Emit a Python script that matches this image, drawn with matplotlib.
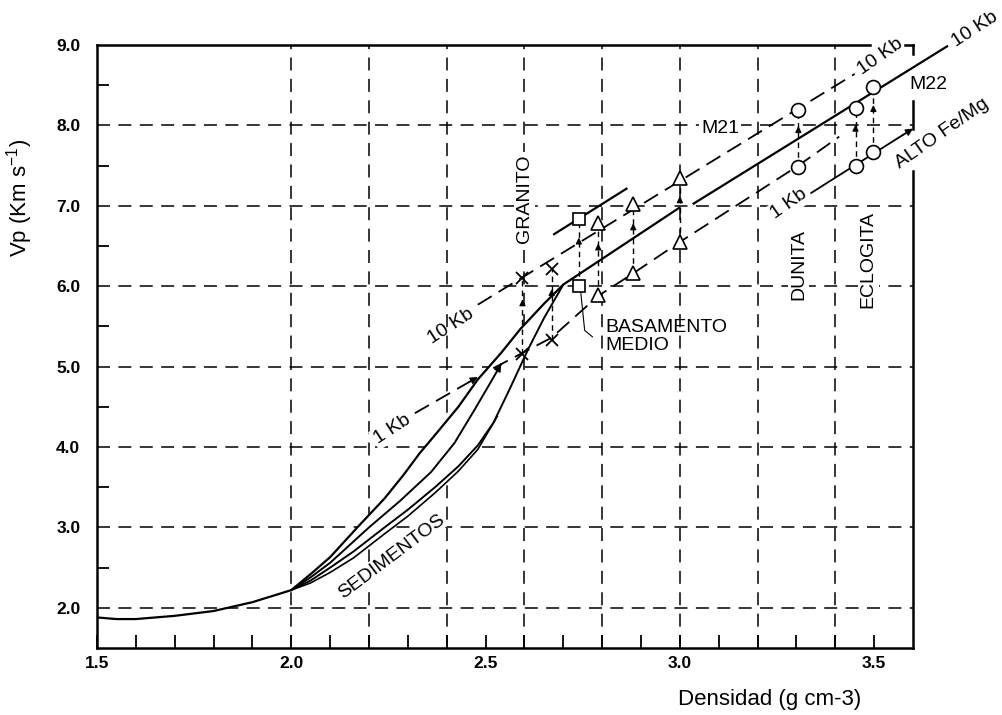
import matplotlib
matplotlib.use("Agg")
import matplotlib.pyplot as plt
from matplotlib.lines import Line2D

plt.rcParams['font.family'] = ['Liberation Sans', 'DejaVu Sans']
plt.rcParams['mathtext.default'] = 'regular'

# ---------------- data ----------------
# common sediment trunk (low density)
trunk_x = [1.50, 1.55, 1.60, 1.70, 1.80, 1.90, 2.00]
trunk_y = [1.88, 1.86, 1.86, 1.90, 1.96, 2.07, 2.22]

# sediment compaction curves
sed_up_x = [2.00, 2.05, 2.10, 2.17, 2.24, 2.29, 2.33, 2.37, 2.43, 2.48, 2.54, 2.59, 2.65, 2.70, 3.00]
sed_up_y = [2.22, 2.42, 2.63, 3.00, 3.36, 3.66, 3.92, 4.15, 4.50, 4.84, 5.17, 5.47, 5.78, 6.02, 6.98]
sed_mid_x = [2.00, 2.05, 2.10, 2.15, 2.20, 2.28, 2.36, 2.42, 2.47, 2.51, 2.54]
sed_mid_y = [2.22, 2.38, 2.56, 2.78, 3.00, 3.33, 3.69, 4.05, 4.45, 4.78, 5.03]
sed_lo1_x = [2.00, 2.05, 2.10, 2.16, 2.24, 2.30, 2.37, 2.43, 2.48, 2.52, 2.56, 2.61, 2.65, 2.70]
sed_lo1_y = [2.22, 2.34, 2.50, 2.70, 3.00, 3.22, 3.50, 3.76, 4.02, 4.30, 4.70, 5.22, 5.60, 6.02]
sed_lo2_x = [2.00, 2.05, 2.10, 2.16, 2.24, 2.30, 2.37, 2.43, 2.48, 2.53]
sed_lo2_y = [2.22, 2.31, 2.44, 2.62, 2.92, 3.14, 3.43, 3.70, 3.97, 4.38]

# M21 regression lines (1 and 10 kb)
m21_10kb_x = [2.48, 3.45]
m21_10kb_y = [5.77, 8.64]
m21_1kb_a_x = [2.318, 2.48]
m21_1kb_a_y = [4.42, 4.87]
m21_1kb_b_x = [2.52, 2.595, 2.67, 2.79, 2.88, 3.00, 3.305, 3.41]
m21_1kb_b_y = [4.98, 5.17, 5.36, 5.88, 6.16, 6.55, 7.50, 7.86]

# M22 lines (10 kb and 1 kb / high Fe/Mg)
m22_10kb_x = [3.033, 3.69]
m22_10kb_y = [7.02, 8.99]
m22_1kb_x = [3.338, 3.59]
m22_1kb_y = [7.16, 7.93]

# granite 10 kb segment
gran_x = [2.674, 2.865]
gran_y = [6.64, 7.22]

# rock samples: density, Vp at 1 kb, Vp at 10 kb
cross_rho = [2.595, 2.67]
cross_v1 = [5.16, 5.33]
cross_v10 = [6.10, 6.21]
square_rho = [2.74]
square_v1 = [6.00]
square_v10 = [6.84]
tri_rho = [2.79, 2.88, 3.00]
tri_v1 = [5.89, 6.17, 6.55]
tri_v10 = [6.78, 7.02, 7.34]
circ_rho = [3.305, 3.452, 3.498]
circ_v1 = [7.48, 7.49, 7.67]
circ_v10 = [8.19, 8.21, 8.48]

x_major = [1.5, 2.0, 2.5, 3.0, 3.5]
x_minor = [1.6, 1.7, 1.8, 1.9, 2.1, 2.2, 2.3, 2.4, 2.6, 2.7, 2.8, 2.9, 3.1, 3.2, 3.3, 3.4]
y_major = [2.0, 3.0, 4.0, 5.0, 6.0, 7.0, 8.0, 9.0]
y_minor = [2.5, 3.5, 4.5, 5.5, 6.5, 7.5, 8.5]
grid_x = [2.0, 2.2, 2.4, 2.6, 2.8, 3.0, 3.2, 3.4]
grid_y = [2.0, 3.0, 4.0, 5.0, 6.0, 7.0, 8.0]

# ---------------- figure ----------------
fig = plt.figure(figsize=(10.03, 7.15), dpi=100)
ax = fig.add_axes([0.0967, 0.0937, 0.8136, 0.8434])
ax.set_xlim(1.5, 3.6)
ax.set_ylim(1.5, 9.0)

K = 'black'
grid_ls = (0, (8.5, 5.5))
for gx in grid_x:
    ax.plot([gx, gx], [1.5, 9.0], color=K, lw=1.1, ls=grid_ls, zorder=1)
for gy in grid_y:
    ax.plot([1.5, 3.6], [gy, gy], color=K, lw=1.1, ls=grid_ls, zorder=1)

# blank out the grid inside the sediment envelope
env_x = sed_up_x[:-1] + sed_lo1_x[::-1][:5] + sed_lo2_x[::-1]
env_y = sed_up_y[:-1] + sed_lo1_y[::-1][:5] + sed_lo2_y[::-1]
ax.fill(env_x, env_y, color='white', zorder=1.5, lw=0)

solid = dict(color=K, lw=1.6, solid_capstyle='butt', zorder=3)
ax.plot(trunk_x, trunk_y, **solid)
ax.plot(sed_up_x, sed_up_y, **solid)
ax.plot(sed_mid_x, sed_mid_y, color=K, lw=1.4, zorder=3)
ax.plot(sed_lo1_x, sed_lo1_y, color=K, lw=1.4, zorder=3)
ax.plot(sed_lo2_x, sed_lo2_y, color=K, lw=1.2, zorder=3)
ax.plot(m22_10kb_x, m22_10kb_y, clip_on=False, **solid)
ax.plot(m22_1kb_x, m22_1kb_y, color=K, lw=1.3, zorder=3, clip_on=False)
ax.plot(gran_x, gran_y, **solid)

dash = dict(color=K, lw=1.3, ls=(0, (9, 4.5)), zorder=3)
ax.plot(m21_10kb_x, m21_10kb_y, **dash)
ax.plot(m21_1kb_a_x, m21_1kb_a_y, **dash)
ax.plot(m21_1kb_b_x, m21_1kb_b_y, **dash)


def head(x0, y0, x1, y1, scale=11):
    # short shaft just behind the tip so only the arrowhead shows
    xs = x1 - 0.15 * (x1 - x0)
    ys = y1 - 0.15 * (y1 - y0)
    ax.annotate('', xy=(x1, y1), xytext=(xs, ys),
                arrowprops=dict(arrowstyle='-|>', color=K, lw=0.9,
                                shrinkA=0, shrinkB=0, mutation_scale=scale),
                zorder=4, annotation_clip=False)


head(sed_mid_x[-2], sed_mid_y[-2], sed_mid_x[-1], sed_mid_y[-1])
head(m21_1kb_a_x[0], m21_1kb_a_y[0], m21_1kb_a_x[1], m21_1kb_a_y[1])
head(m22_1kb_x[0], m22_1kb_y[0], 3.60, 7.96)

# pressure arrows (1 kb -> 10 kb) for every sample
for rho, v1, v10 in zip(cross_rho + square_rho + tri_rho + circ_rho,
                        cross_v1 + square_v1 + tri_v1 + circ_v1,
                        cross_v10 + square_v10 + tri_v10 + circ_v10):
    ax.plot([rho, rho], [v1, v10], color=K, lw=1.0, ls=(0, (4, 3)), zorder=3.5)
    ytip = v1 + 0.72 * (v10 - v1)
    head(rho, ytip - 0.4, rho, ytip, scale=9)

mk = dict(ls='none', color=K, mfc='white', mec=K, zorder=6)
ax.plot(cross_rho + cross_rho, cross_v1 + cross_v10, marker='x', ms=8, mew=1.3, ls='none', color=K, zorder=6)
ax.plot(square_rho + square_rho, square_v1 + square_v10, marker='s', ms=8.5, mew=1.2, **mk)
ax.plot(tri_rho + tri_rho, tri_v1 + tri_v10, marker='^', ms=10, mew=1.2, **mk)
ax.plot(circ_rho + circ_rho, circ_v1 + circ_v10, marker='o', ms=10, mew=1.2, **mk)

# basement leader line
ax.plot([2.745, 2.755, 2.775], [5.92, 5.45, 5.37], color=K, lw=0.8, zorder=3)

# ---------------- axes frame ----------------
for s in ('top', 'right'):
    ax.spines[s].set_visible(False)
for s in ('left', 'bottom'):
    ax.spines[s].set_linewidth(1.8)
frame = [([1.5, 3.49], [9.0, 9.0]), ([3.58, 3.6], [9.0, 9.0]),
         ([3.6, 3.6], [9.0, 8.89]), ([3.6, 3.6], [8.30, 7.96]),
         ([3.6, 3.6], [7.43, 1.5])]
for fx, fy in frame:
    ax.add_line(Line2D(fx, fy, color=K, lw=1.8, clip_on=False, zorder=2,
                       solid_capstyle='projecting'))

ax.set_xticks(x_major)
ax.set_xticklabels([f'{v:.1f}' for v in x_major])
ax.set_xticks(x_minor, minor=True)
ax.set_yticks(y_major)
ax.set_yticklabels([f'{v:.1f}' for v in y_major])
ax.set_yticks(y_minor, minor=True)
ax.tick_params(axis='x', which='both', direction='in', length=9.5, width=1.3,
               pad=6, labelsize=12.5)
ax.tick_params(axis='y', which='major', length=0, pad=12, labelsize=12.5)
ax.tick_params(axis='y', which='minor', direction='in', length=8.6, width=1.3)
for lab in ax.get_xticklabels() + ax.get_yticklabels():
    lab.set_fontweight('bold')

fig.text(20 / 1003, 1 - 198 / 715, 'Vp (Km s$^{-1}$)', rotation=90,
         ha='center', va='center', fontsize=16)
fig.text(770 / 1003, 1 - 700 / 715, 'Densidad (g cm-3)',
         ha='center', va='center', fontsize=16)

box = dict(facecolor='white', edgecolor='none', pad=1.5)
fs = 14
ax.text(2.60, 7.09, 'GRANITO', rotation=90, ha='center', va='center', fontsize=fs, bbox=box, zorder=7)
ax.text(3.305, 6.27, 'DUNITA', rotation=90, ha='center', va='center', fontsize=fs, bbox=box, zorder=7)
ax.text(3.485, 6.33, 'ECLOGITA', rotation=90, ha='center', va='center', fontsize=fs, bbox=box, zorder=7)
ax.text(3.104, 7.96, 'M21', ha='center', va='center', fontsize=fs, bbox=box, zorder=7)
ax.text(3.59, 8.51, 'M22', ha='left', va='center', fontsize=fs, zorder=7, clip_on=False)
ax.text(3.675, 7.90, 'ALTO Fe/Mg', rotation=35, ha='center', va='center', fontsize=fs,
        rotation_mode='anchor', zorder=7)
ax.text(2.807, 5.59, 'BASAMENTO\nMEDIO', ha='left', va='top', fontsize=fs,
        linespacing=1.05, zorder=7)
ax.text(2.258, 2.64, 'SEDIMENTOS', rotation=37, ha='center', va='center', fontsize=fs,
        rotation_mode='anchor', bbox=dict(facecolor='white', edgecolor='none', pad=0.5), zorder=7)
ax.text(2.41, 5.50, '10 Kb', rotation=33, ha='center', va='center', fontsize=fs,
        rotation_mode='anchor', zorder=7)
ax.text(2.26, 4.22, '1 Kb', rotation=33, ha='center', va='center', fontsize=fs,
        rotation_mode='anchor', bbox=box, zorder=7)
ax.text(3.28, 7.02, '1 Kb', rotation=35, ha='center', va='center', fontsize=fs,
        rotation_mode='anchor', bbox=box, zorder=7)
ax.text(3.515, 8.85, '10 Kb', rotation=35, ha='center', va='center', fontsize=fs,
        rotation_mode='anchor', zorder=7)
ax.text(3.76, 9.20, '10 Kb', rotation=33, ha='center', va='center', fontsize=fs,
        rotation_mode='anchor', zorder=7, clip_on=False)

fig.savefig('out.png', dpi=100)
